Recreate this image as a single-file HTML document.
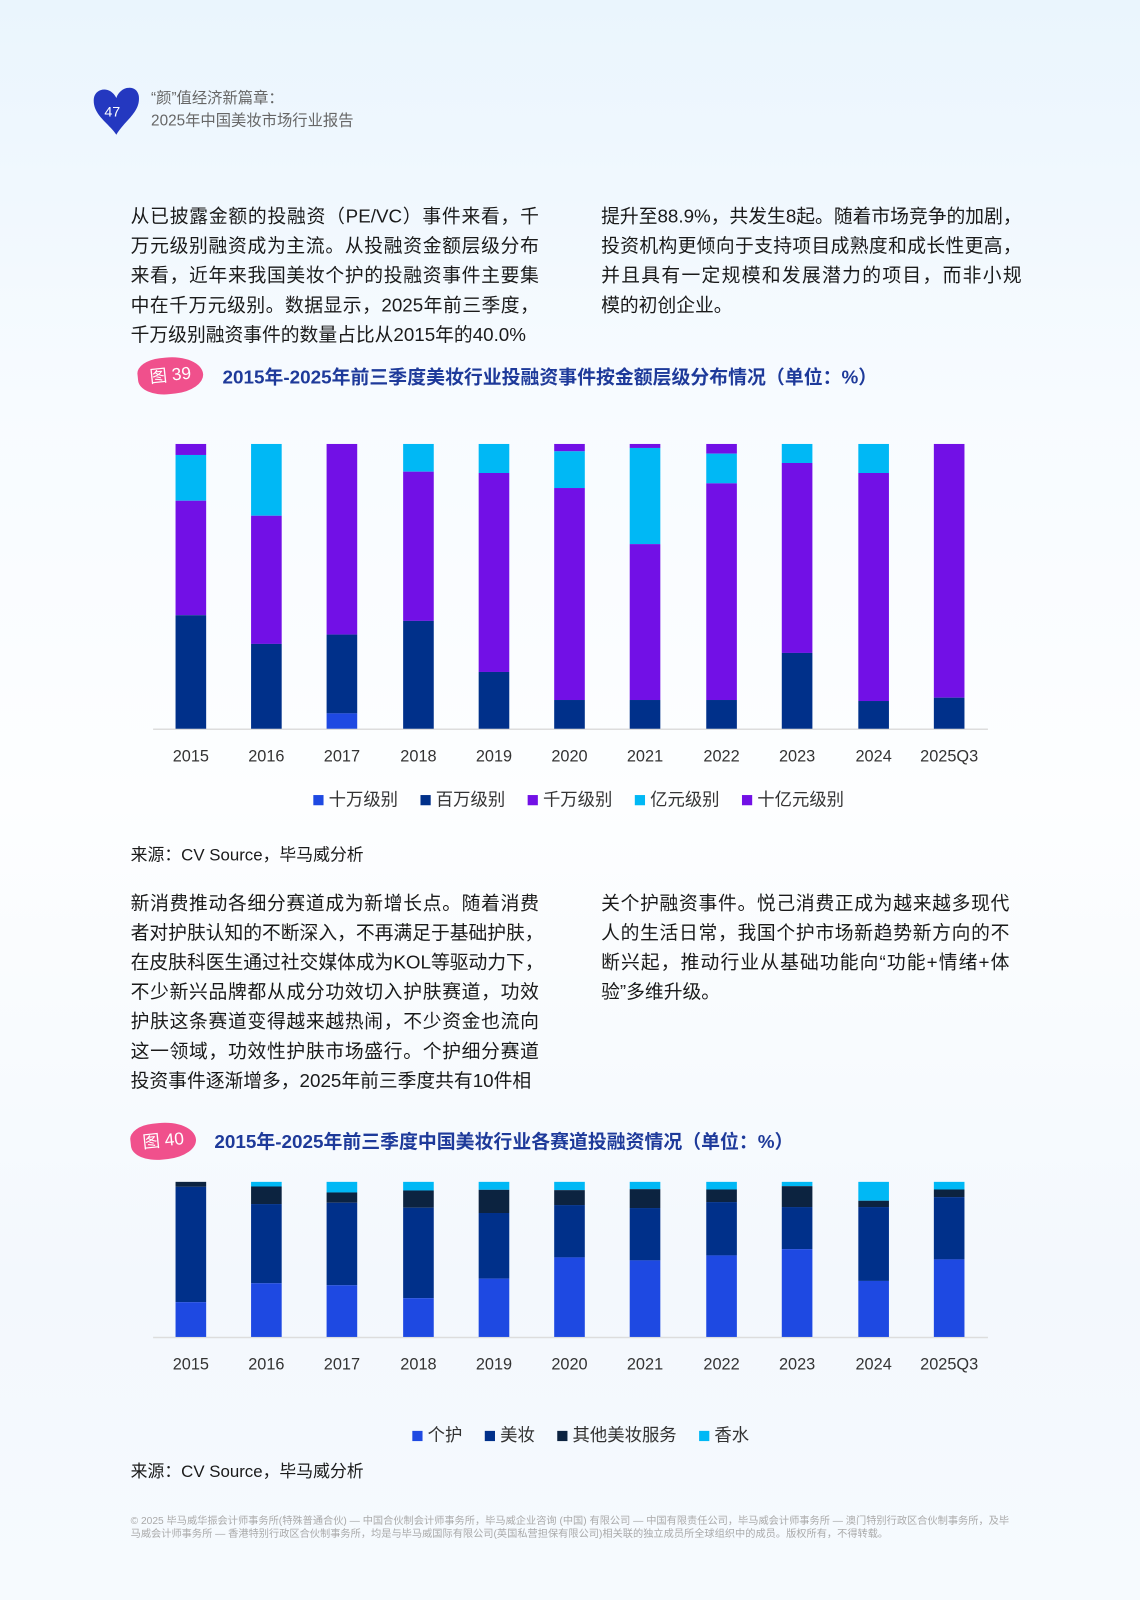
<!DOCTYPE html>
<html><head><meta charset="utf-8"><style>
body{margin:0}
#o{width:1140px;height:1600px;overflow:hidden;background:linear-gradient(180deg,#eaf5fd 0%,#f7fbff 25%,#fdfeff 50%,#f3f8fd 80%,#f6fafe 100%)}
#p{position:relative;width:1117px;height:1568px;transform:scale(1.0206);transform-origin:0 0;font-family:"Liberation Sans","Noto Sans CJK SC",sans-serif;color:#1a1a1a}
.t{position:absolute;font-size:18.4px;line-height:29px}
.t span{display:block;white-space:nowrap;text-align:justify;text-align-last:justify}
.t span.l{text-align-last:left}
.hd{position:absolute;font-size:15px;color:#666;line-height:22px}
.ct{position:absolute;font-size:18.5px;font-weight:bold;color:#1e3a9a}
.tag{position:absolute;width:64px;height:36px;background:#f0508c;border-radius:40% 60% 50% 50%;color:#fff;font-size:17px;line-height:36px;text-align:center;transform:rotate(-6deg)}
.lg{position:absolute;font-size:17px;color:#333;white-space:nowrap}
.lg i{display:inline-block;width:10px;height:10px;margin:0 5px 0 22px}
.ft{position:absolute;left:128px;top:1484px;width:862px;font-size:10px;line-height:13px;color:#aaa}
</style></head><body><div id="o"><div id="p">
<svg style="position:absolute;left:88px;top:82px" width="52" height="52" viewBox="0 0 52 52"><path d="M26 50 C18 38 2 30 4 14 C6 4 20 2 26 14 C30 2 46 0 48 12 C50 28 34 36 26 50Z" fill="#2438c0"/><text x="22" y="32" fill="#fff" font-size="14" text-anchor="middle" font-family="Liberation Sans">47</text></svg>
<div class="hd" style="left:148px;top:86px">“颜”值经济新篇章：<br>2025年中国美妆市场行业报告</div>

<div class="t" style="left:128px;top:197px;width:400px"><span>从已披露金额的投融资（PE/VC）事件来看，千</span><span>万元级别融资成为主流。从投融资金额层级分布</span><span>来看，近年来我国美妆个护的投融资事件主要集</span><span>中在千万元级别。数据显示，2025年前三季度，</span><span class="l">千万级别融资事件的数量占比从2015年的40.0%</span></div>
<div class="t" style="left:589px;top:197px;width:412px"><span>提升至88.9%，共发生8起。随着市场竞争的加剧，</span><span>投资机构更倾向于支持项目成熟度和成长性更高，</span><span>并且具有一定规模和发展潜力的项目，而非小规</span><span class="l">模的初创企业。</span></div>

<div class="tag" style="left:135px;top:350px">图 39</div>
<div class="ct" style="left:218px;top:356px">2015年-2025年前三季度美妆行业投融资事件按金额层级分布情况（单位：%）</div>

<svg style="position:absolute;left:0;top:0" width="1117" height="1568">
<line x1="150" y1="714.5" x2="968" y2="714.5" stroke="#ddd" stroke-width="1.5"/>
<g transform="translate(0,435) scale(1,0.3271) translate(0,-72)">
<g transform="translate(172,0)"><rect y="72" width="30" height="33" fill="#7210e6"/><rect y="105" width="30" height="137" fill="#00b8f5"/><rect y="242" width="30" height="343" fill="#7210e6"/><rect y="585" width="30" height="340" fill="#00308a"/></g>
<g transform="translate(246,0)"><rect y="72" width="30" height="215" fill="#00b8f5"/><rect y="287" width="30" height="384" fill="#7210e6"/><rect y="671" width="30" height="254" fill="#00308a"/></g>
<g transform="translate(320,0)"><rect y="72" width="30" height="571" fill="#7210e6"/><rect y="643" width="30" height="236" fill="#00308a"/><rect y="879" width="30" height="46" fill="#1e49e2"/></g>
<g transform="translate(395,0)"><rect y="72" width="30" height="83" fill="#00b8f5"/><rect y="155" width="30" height="447" fill="#7210e6"/><rect y="602" width="30" height="323" fill="#00308a"/></g>
<g transform="translate(469,0)"><rect y="72" width="30" height="87" fill="#00b8f5"/><rect y="159" width="30" height="596" fill="#7210e6"/><rect y="755" width="30" height="170" fill="#00308a"/></g>
<g transform="translate(543,0)"><rect y="72" width="30" height="22" fill="#7210e6"/><rect y="94" width="30" height="110" fill="#00b8f5"/><rect y="204" width="30" height="635" fill="#7210e6"/><rect y="839" width="30" height="86" fill="#00308a"/></g>
<g transform="translate(617,0)"><rect y="72" width="30" height="12" fill="#7210e6"/><rect y="84" width="30" height="288" fill="#00b8f5"/><rect y="372" width="30" height="467" fill="#7210e6"/><rect y="839" width="30" height="86" fill="#00308a"/></g>
<g transform="translate(692,0)"><rect y="72" width="30" height="29" fill="#7210e6"/><rect y="101" width="30" height="89" fill="#00b8f5"/><rect y="190" width="30" height="649" fill="#7210e6"/><rect y="839" width="30" height="86" fill="#00308a"/></g>
<g transform="translate(766,0)"><rect y="72" width="30" height="57" fill="#00b8f5"/><rect y="129" width="30" height="569" fill="#7210e6"/><rect y="698" width="30" height="227" fill="#00308a"/></g>
<g transform="translate(841,0)"><rect y="72" width="30" height="87" fill="#00b8f5"/><rect y="159" width="30" height="683" fill="#7210e6"/><rect y="842" width="30" height="83" fill="#00308a"/></g>
<g transform="translate(915,0)"><rect y="72" width="30" height="760" fill="#7210e6"/><rect y="832" width="30" height="93" fill="#00308a"/></g>
</g>

<line x1="150" y1="1310.5" x2="968" y2="1310.5" stroke="#ddd" stroke-width="1.5"/>
<g transform="translate(0,1158) scale(1,0.3247) translate(0,-93)">
<g transform="translate(172,0)"><rect y="93" width="30" height="15" fill="#0c2340"/><rect y="108" width="30" height="348" fill="#00308a"/><rect y="456" width="30" height="105" fill="#1e49e2"/></g>
<g transform="translate(246,0)"><rect y="93" width="30" height="14" fill="#00b8f5"/><rect y="107" width="30" height="53" fill="#0c2340"/><rect y="160" width="30" height="239" fill="#00308a"/><rect y="399" width="30" height="162" fill="#1e49e2"/></g>
<g transform="translate(320,0)"><rect y="93" width="30" height="32" fill="#00b8f5"/><rect y="125" width="30" height="31" fill="#0c2340"/><rect y="156" width="30" height="249" fill="#00308a"/><rect y="405" width="30" height="156" fill="#1e49e2"/></g>
<g transform="translate(395,0)"><rect y="93" width="30" height="26" fill="#00b8f5"/><rect y="119" width="30" height="52" fill="#0c2340"/><rect y="171" width="30" height="273" fill="#00308a"/><rect y="444" width="30" height="117" fill="#1e49e2"/></g>
<g transform="translate(469,0)"><rect y="93" width="30" height="24" fill="#00b8f5"/><rect y="117" width="30" height="70" fill="#0c2340"/><rect y="187" width="30" height="198" fill="#00308a"/><rect y="385" width="30" height="176" fill="#1e49e2"/></g>
<g transform="translate(543,0)"><rect y="93" width="30" height="25" fill="#00b8f5"/><rect y="118" width="30" height="45" fill="#0c2340"/><rect y="163" width="30" height="158" fill="#00308a"/><rect y="321" width="30" height="240" fill="#1e49e2"/></g>
<g transform="translate(617,0)"><rect y="93" width="30" height="22" fill="#00b8f5"/><rect y="115" width="30" height="57" fill="#0c2340"/><rect y="172" width="30" height="158" fill="#00308a"/><rect y="330" width="30" height="231" fill="#1e49e2"/></g>
<g transform="translate(692,0)"><rect y="93" width="30" height="23" fill="#00b8f5"/><rect y="116" width="30" height="38" fill="#0c2340"/><rect y="154" width="30" height="161" fill="#00308a"/><rect y="315" width="30" height="246" fill="#1e49e2"/></g>
<g transform="translate(766,0)"><rect y="93" width="30" height="13" fill="#00b8f5"/><rect y="106" width="30" height="63" fill="#0c2340"/><rect y="169" width="30" height="127" fill="#00308a"/><rect y="296" width="30" height="265" fill="#1e49e2"/></g>
<g transform="translate(841,0)"><rect y="93" width="30" height="57" fill="#00b8f5"/><rect y="150" width="30" height="19" fill="#0c2340"/><rect y="169" width="30" height="223" fill="#00308a"/><rect y="392" width="30" height="169" fill="#1e49e2"/></g>
<g transform="translate(915,0)"><rect y="93" width="30" height="23" fill="#00b8f5"/><rect y="116" width="30" height="23" fill="#0c2340"/><rect y="139" width="30" height="188" fill="#00308a"/><rect y="327" width="30" height="234" fill="#1e49e2"/></g>
</g>
<g font-family="Liberation Sans" font-size="16" fill="#333" text-anchor="middle">
<text x="187" y="746">2015</text><text x="261" y="746">2016</text><text x="335" y="746">2017</text><text x="410" y="746">2018</text><text x="484" y="746">2019</text><text x="558" y="746">2020</text><text x="632" y="746">2021</text><text x="707" y="746">2022</text><text x="781" y="746">2023</text><text x="856" y="746">2024</text><text x="930" y="746">2025Q3</text>
<text x="187" y="1342">2015</text><text x="261" y="1342">2016</text><text x="335" y="1342">2017</text><text x="410" y="1342">2018</text><text x="484" y="1342">2019</text><text x="558" y="1342">2020</text><text x="632" y="1342">2021</text><text x="707" y="1342">2022</text><text x="781" y="1342">2023</text><text x="856" y="1342">2024</text><text x="930" y="1342">2025Q3</text>
</g>
</svg>

<div class="lg" style="left:285px;top:769px"><i style="background:#1e49e2"></i>十万级别<i style="background:#00308a"></i>百万级别<i style="background:#7210e6"></i>千万级别<i style="background:#00b8f5"></i>亿元级别<i style="background:#7210e6"></i>十亿元级别</div>
<div class="t" style="left:128px;top:824px;font-size:16.5px">来源：CV Source，毕马威分析</div>

<div class="t" style="left:128px;top:870px;width:400px"><span>新消费推动各细分赛道成为新增长点。随着消费</span><span>者对护肤认知的不断深入，不再满足于基础护肤，</span><span>在皮肤科医生通过社交媒体成为KOL等驱动力下，</span><span>不少新兴品牌都从成分功效切入护肤赛道，功效</span><span>护肤这条赛道变得越来越热闹，不少资金也流向</span><span>这一领域，功效性护肤市场盛行。个护细分赛道</span><span class="l">投资事件逐渐增多，2025年前三季度共有10件相</span></div>
<div class="t" style="left:589px;top:870px;width:400px"><span>关个护融资事件。悦己消费正成为越来越多现代</span><span>人的生活日常，我国个护市场新趋势新方向的不</span><span>断兴起，推动行业从基础功能向“功能+情绪+体</span><span class="l">验”多维升级。</span></div>

<div class="tag" style="left:128px;top:1100px">图 40</div>
<div class="ct" style="left:210px;top:1105px">2015年-2025年前三季度中国美妆行业各赛道投融资情况（单位：%）</div>

<div class="lg" style="left:382px;top:1392px"><i style="background:#1e49e2"></i>个护<i style="background:#00308a"></i>美妆<i style="background:#0c2340"></i>其他美妆服务<i style="background:#00b8f5"></i>香水</div>
<div class="t" style="left:128px;top:1428px;font-size:16.5px">来源：CV Source，毕马威分析</div>
<div class="ft">© 2025 毕马威华振会计师事务所(特殊普通合伙) — 中国合伙制会计师事务所，毕马威企业咨询 (中国) 有限公司 — 中国有限责任公司，毕马威会计师事务所 — 澳门特别行政区合伙制事务所，及毕马威会计师事务所 — 香港特别行政区合伙制事务所，均是与毕马威国际有限公司(英国私营担保有限公司)相关联的独立成员所全球组织中的成员。版权所有，不得转载。</div>
</div></div></body></html>
